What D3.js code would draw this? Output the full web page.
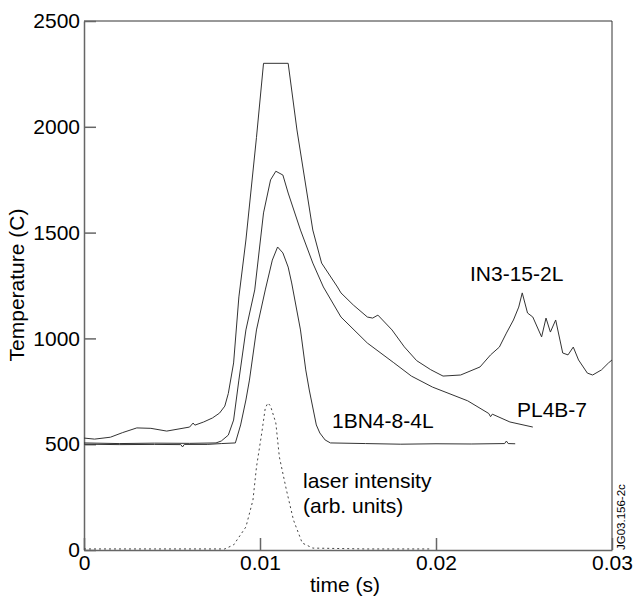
<!DOCTYPE html>
<meta charset="utf-8">
<style>
body { margin: 0; background: #fff; }
text { font-family: "Liberation Sans", Arial, Helvetica, sans-serif; fill: #000; }
.curve { fill: none; stroke: #333; stroke-width: 1; }
.laser { fill: none; stroke: #444; stroke-width: 1; stroke-dasharray: 2,3; }
.axis path, .axis line { stroke: #666; stroke-width: 1.5; }
</style>
<body>
<svg width="636" height="601"></svg>
<script src="https://d3js.org/d3.v7.min.js"></script>
<script>

// tick values
var xTicks = [0, 0.01, 0.02, 0.03];
var xTickLabels = ["0", "0.01", "0.02", "0.03"];
var yTicks = [0, 500, 1000, 1500, 2000, 2500];

// IN3-15-2L  [time (s), temperature (C)]
var in3 = [
	[0, 529], [0.0006, 524], [0.0015, 533], [0.0022, 555], [0.0030, 577], [0.0038, 575],
	[0.0047, 562], [0.0060, 581], [0.0062, 600], [0.0063, 590], [0.0068, 605], [0.0073, 624],
	[0.0077, 647], [0.0080, 680], [0.0082, 740], [0.0085, 884], [0.0088, 1196], [0.0092, 1465],
	[0.0098, 1950], [0.0102, 2300], [0.0116, 2300], [0.0121, 1985], [0.0130, 1512], [0.0135, 1356],
	[0.0144, 1243], [0.0146, 1215], [0.0153, 1158], [0.0161, 1101], [0.0164, 1096], [0.0167, 1110],
	[0.0175, 1040], [0.0182, 960], [0.0189, 895], [0.0197, 852], [0.0204, 822], [0.0214, 827], [0.0225, 865],
	[0.0231, 922], [0.0236, 959], [0.0240, 1025], [0.0244, 1087], [0.0247, 1148], [0.0249, 1215],
	[0.0252, 1120], [0.0255, 1101], [0.0260, 1007], [0.02625, 1096], [0.0265, 1030], [0.0268, 1087],
	[0.0272, 931], [0.0275, 922], [0.0278, 959], [0.0281, 898], [0.0286, 836], [0.0289, 827],
	[0.0294, 851], [0.0298, 884], [0.0300, 898]
];

// PL4B-7
var pl4b = [
	[0, 506], [0.002, 503], [0.004, 505], [0.006, 504], [0.0075, 506], [0.0078, 515],
	[0.0082, 543], [0.0085, 614], [0.0088, 803], [0.0092, 1040], [0.0097, 1229], [0.0102, 1593],
	[0.0106, 1749], [0.0109, 1790], [0.0113, 1772], [0.0116, 1687], [0.0123, 1512], [0.0130, 1356],
	[0.0136, 1243], [0.0146, 1101], [0.0161, 978], [0.0176, 885], [0.0186, 822], [0.0198, 770],
	[0.0218, 705], [0.0230, 645], [0.0231, 630], [0.0232, 642], [0.0242, 605], [0.0255, 581]
];

// 1BN4-8-4L
var bn4 = [
	[0, 500], [0.002, 498], [0.004, 499], [0.0055, 498], [0.0056, 487], [0.0057, 499],
	[0.007, 499], [0.0078, 503], [0.0086, 506], [0.0089, 591], [0.0092, 709], [0.0094, 803],
	[0.0098, 1040], [0.0103, 1229], [0.0107, 1370], [0.0110, 1432], [0.0113, 1404], [0.0116, 1337],
	[0.0118, 1262], [0.0123, 1040], [0.0126, 851], [0.0128, 756], [0.0132, 591], [0.0134, 553],
	[0.0137, 520], [0.0140, 506], [0.016, 503], [0.018, 500], [0.020, 502], [0.022, 501],
	[0.0239, 503], [0.0240, 515], [0.0241, 503], [0.0245, 502]
];

// laser intensity (arb. units)
var laser = [
	[0, 5], [0.004, 5], [0.0080, 5], [0.0081, 9], [0.0085, 24], [0.0092, 109], [0.0096, 236],
	[0.0098, 392], [0.0101, 553], [0.0103, 671], [0.01045, 695], [0.0106, 680], [0.0109, 600],
	[0.0111, 440], [0.0115, 284], [0.0119, 142], [0.0124, 33], [0.0130, 9], [0.0160, 5], [0.0197, 5]
];

var svg = d3.select("svg");

var x = d3.scaleLinear().domain([0, 0.03]).range([84, 612]);
var y = d3.scaleLinear().domain([0, 2500]).range([550, 21]);

// frame top and right
svg.append("path")
	.attr("d", "M" + x(0) + "," + y(2500) + "H" + x(0.03) + "V" + y(0))
	.style("fill", "none")
	.style("stroke", "#333")
	.style("stroke-width", 1);

var xAxis = d3.axisBottom(x)
	.tickValues(xTicks)
	.tickFormat(function(d, i){ return xTickLabels[i]; })
	.tickSizeInner(-12)
	.tickSizeOuter(0)
	.tickPadding(5);

var yAxis = d3.axisLeft(y)
	.tickValues(yTicks)
	.tickFormat(d3.format("d"))
	.tickSizeInner(-12)
	.tickSizeOuter(0)
	.tickPadding(4);

svg.append("g")
	.attr("class", "axis")
	.attr("transform", "translate(0," + y(0) + ")")
	.call(xAxis)
	.selectAll("text")
	.style("font-size", "21px")
	.style("font-family", "'Liberation Sans', Arial, sans-serif")
	.attr("fill", "#000");

svg.append("g")
	.attr("class", "axis")
	.attr("transform", "translate(" + x(0) + ",0)")
	.call(yAxis)
	.selectAll("text")
	.style("font-size", "21px")
	.style("font-family", "'Liberation Sans', Arial, sans-serif")
	.attr("fill", "#000");

var line = d3.line()
	.x(function(d){ return x(d[0]); })
	.y(function(d){ return y(d[1]); });

svg.append("path").attr("class", "curve").attr("d", line(in3));
svg.append("path").attr("class", "curve").attr("d", line(pl4b));
svg.append("path").attr("class", "curve").attr("d", line(bn4));
svg.append("path").attr("class", "laser").attr("d", line(laser));

// labels
function label(tx, ty, s, size){
	svg.append("text")
		.attr("x", tx)
		.attr("y", ty)
		.style("font-size", (size || 21) + "px")
		.text(s);
}

label(470, 281, "IN3-15-2L");
label(517, 417, "PL4B-7");
label(332, 428, "1BN4-8-4L");
label(303, 488, "laser intensity");
label(303, 513, "(arb. units)");

svg.append("text")
	.attr("x", 345)
	.attr("y", 592)
	.attr("text-anchor", "middle")
	.style("font-size", "21px")
	.text("time (s)");

svg.append("text")
	.attr("transform", "translate(24,285) rotate(-90)")
	.attr("text-anchor", "middle")
	.style("font-size", "21px")
	.text("Temperature (C)");

svg.append("text")
	.attr("transform", "translate(625,550) rotate(-90)")
	.style("font-size", "11.5px")
	.text("JG03.156-2c");

</script>
</body>
</html>
